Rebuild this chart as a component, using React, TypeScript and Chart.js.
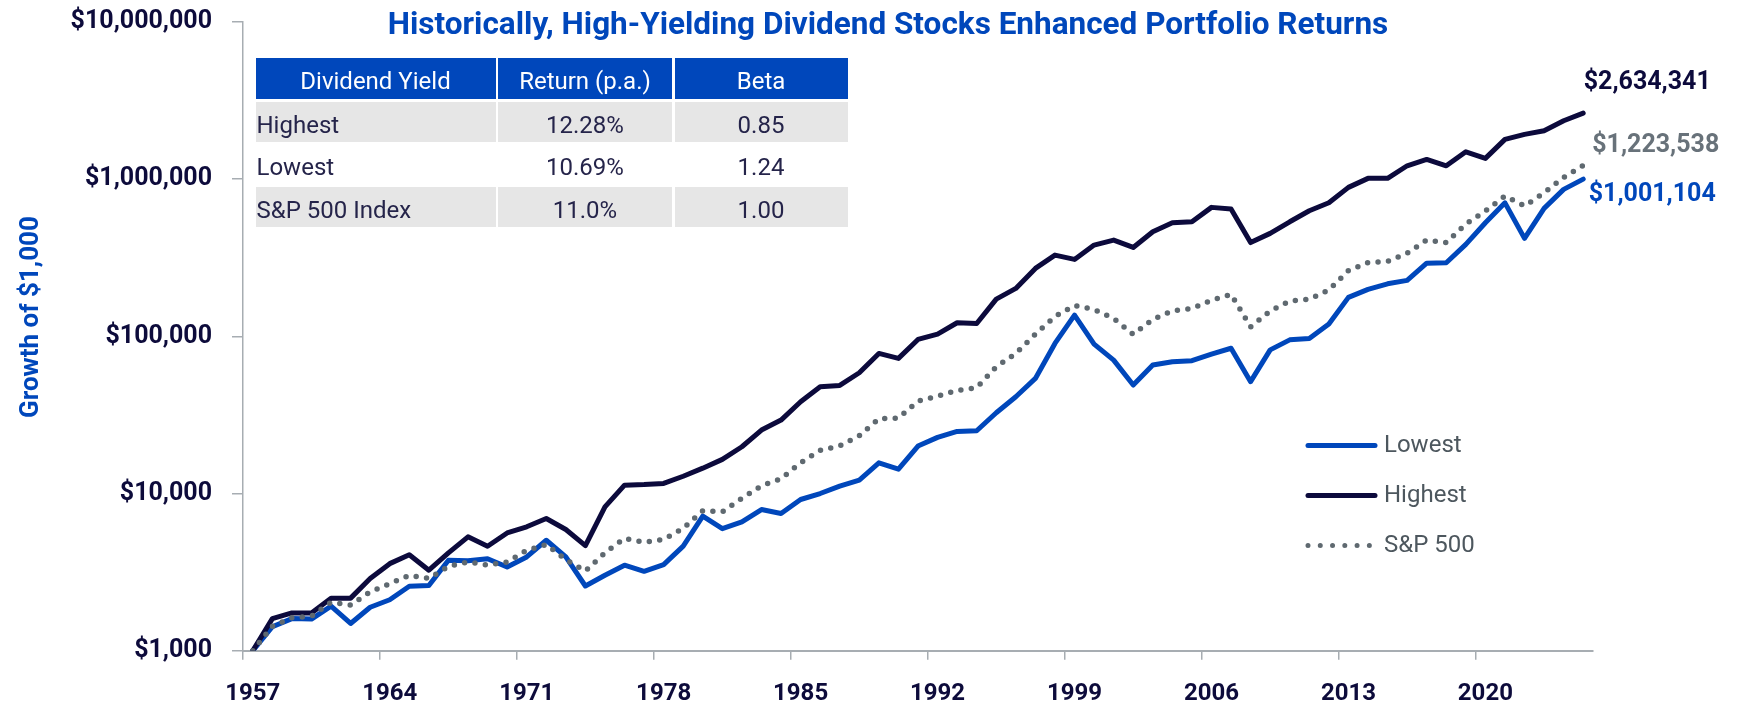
import React, { useEffect, useRef } from 'react';
import { Chart, registerables } from 'chart.js';

Chart.register(...registerables);

// ---------- data ----------
const YEARS = [
  '1957', '1958', '1959', '1960', '1961', '1962', '1963', '1964', '1965', '1966',
  '1967', '1968', '1969', '1970', '1971', '1972', '1973', '1974', '1975', '1976',
  '1977', '1978', '1979', '1980', '1981', '1982', '1983', '1984', '1985', '1986',
  '1987', '1988', '1989', '1990', '1991', '1992', '1993', '1994', '1995', '1996',
  '1997', '1998', '1999', '2000', '2001', '2002', '2003', '2004', '2005', '2006',
  '2007', '2008', '2009', '2010', '2011', '2012', '2013', '2014', '2015', '2016',
  '2017', '2018', '2019', '2020', '2021', '2022', '2023', '2024', '2025',
];

const HIGHEST = [
  1000, 1600, 1740, 1740, 2160, 2160, 2880, 3580, 4080, 3250,
  4190, 5300, 4620, 5610, 6140, 6940, 5900, 4660, 8220, 11300,
  11400, 11590, 12880, 14500, 16490, 19850, 25330, 29340, 38370, 47790,
  48750, 58650, 77860, 72400, 95600, 103400, 122050, 120800, 172600, 201800,
  270500, 328800, 308600, 380700, 409600, 367900, 462700, 528000, 535700, 661600,
  645600, 395000, 452000, 535700, 629500, 707500, 887000, 1012000, 1012000, 1217000,
  1336000, 1217000, 1494000, 1356000, 1791000, 1928000, 2033000, 2353000, 2634341,
];

const LOWEST = [
  1000, 1420, 1600, 1590, 1920, 1490, 1890, 2110, 2570, 2600,
  3760, 3730, 3850, 3410, 3950, 5045, 3950, 2580, 3020, 3500,
  3200, 3530, 4625, 7180, 5980, 6600, 7910, 7460, 9160, 10000,
  11140, 12170, 15680, 14300, 20040, 22760, 24850, 25080, 32660, 41290,
  53980, 90160, 136500, 89320, 70600, 48980, 65660, 68920, 70000, 77000,
  84000, 51500, 82000, 95000, 97000, 120000, 177000, 199000, 216000, 227000,
  292000, 294000, 385000, 528000, 707000, 420000, 652000, 861000, 1001104,
];

const SP500 = [
  1000, 1430, 1620, 1660, 2030, 1950, 2365, 2670, 3020, 2880,
  3440, 3670, 3500, 3670, 4355, 4730, 3800, 3210, 4200, 5190,
  4890, 5100, 6000, 7780, 7660, 9320, 11200, 12400, 15700, 18800,
  20140, 23320, 29900, 30200, 38740, 41690, 45290, 47120, 64070, 77880,
  103300, 133900, 157300, 148300, 130000, 102900, 128200, 145500, 150000, 170000,
  185000, 115000, 145000, 168000, 172000, 197000, 262000, 295000, 300000, 338000,
  410000, 395000, 517700, 627000, 781000, 674800, 819000, 1026000, 1223538,
];

const Y_TICK_VALUES = [1000, 10000, 100000, 1000000, 10000000];
const Y_TICK_LABELS = ['$1,000', '$10,000', '$100,000', '$1,000,000', '$10,000,000'];
const X_TICK_LABELS = ['1957', '1964', '1971', '1978', '1985', '1992', '1999', '2006', '2013', '2020'];

const SERIES_NAMES = ['S&P 500', 'Highest', 'Lowest'];
const END_LABELS = ['$1,223,538', '$2,634,341', '$1,001,104'];
const LEGEND_ORDER = ['Lowest', 'Highest', 'S&P 500'];

const TITLE = 'Historically, High-Yielding Dividend Stocks Enhanced Portfolio Returns';
const Y_TITLE = 'Growth of $1,000';

const TABLE_HEAD = ['Dividend Yield', 'Return (p.a.)', 'Beta'];
const TABLE_ROWS = [
  ['Highest', '12.28%', '0.85'],
  ['Lowest', '10.69%', '1.24'],
  ['S&P 500 Index', '11.0%', '1.00'],
];

// ---------- styles ----------
const FONT = "Roboto, 'DejaVu Sans', sans-serif";
const NAVY = '#0c0a3c';
const BLUE = '#0047bb';
const GRAY = '#5f6970';
const GRAY_LABEL = '#68727a';
const AXIS = '#a7adb2';
const TICK = '#0d0b3b';
const LEGEND_TEXT = '#4d575e';
const TABLE_TEXT = '#25244a';
const ROW_GRAY = '#e6e6e6';

const SERIES_STYLE: Record<string, any> = {
  'S&P 500': { color: GRAY, labelColor: GRAY_LABEL, width: 5.5, dash: [0, 10.5], dx: 9, dy: -13.6 },
  Highest: { color: NAVY, labelColor: NAVY, width: 5, dash: [], dx: 0.5, dy: -23.7 },
  Lowest: { color: BLUE, labelColor: BLUE, width: 5, dash: [], dx: 5.5, dy: 21.7 },
};
const SERIES_DATA: Record<string, number[]> = { 'S&P 500': SP500, Highest: HIGHEST, Lowest: LOWEST };

const decorPlugin = {
  id: 'decor',
  afterDatasetsDraw(chart: any) {
    const ctx = chart.ctx as CanvasRenderingContext2D;
    const area = chart.chartArea;
    ctx.save();

    // title
    ctx.fillStyle = BLUE;
    ctx.font = `bold 31.5px ${FONT}`;
    ctx.textAlign = 'center';
    ctx.textBaseline = 'alphabetic';
    ctx.fillText(TITLE, 888, 34.3);

    // y axis title
    ctx.save();
    ctx.translate(38, 317);
    ctx.rotate(-Math.PI / 2);
    ctx.font = `bold 26px ${FONT}`;
    ctx.fillStyle = BLUE;
    ctx.textAlign = 'center';
    ctx.textBaseline = 'alphabetic';
    ctx.fillText(Y_TITLE, 0, 0);
    ctx.restore();

    // end labels
    chart.data.datasets.forEach((ds: any, i: number) => {
      const meta = chart.getDatasetMeta(i);
      const pt = meta.data[meta.data.length - 1];
      const st = SERIES_STYLE[ds.label];
      ctx.font = `bold 25px ${FONT}`;
      ctx.fillStyle = st.labelColor;
      ctx.textAlign = 'left';
      ctx.textBaseline = 'alphabetic';
      ctx.fillText(END_LABELS[i], pt.x + st.dx, pt.y + st.dy);
    });

    // legend
    const lx0 = area.right - 285;
    const lx1 = area.right - 218;
    const tx = area.right - 209;
    LEGEND_ORDER.forEach((name, i) => {
      const st = SERIES_STYLE[name];
      const y = area.top + 423.5 + i * 50;
      ctx.save();
      ctx.strokeStyle = st.color;
      ctx.lineWidth = 5;
      ctx.lineCap = 'round';
      if (st.dash.length) {
        ctx.setLineDash([0, 12.27]);
        ctx.beginPath();
        ctx.moveTo(lx0, y);
        ctx.lineTo(lx0 + 12.27 * 5 + 0.5, y);
        ctx.stroke();
      } else {
        ctx.beginPath();
        ctx.moveTo(lx0, y);
        ctx.lineTo(lx1, y);
        ctx.stroke();
      }
      ctx.restore();
      ctx.font = `24px ${FONT}`;
      ctx.fillStyle = LEGEND_TEXT;
      ctx.textAlign = 'left';
      ctx.textBaseline = 'alphabetic';
      ctx.fillText(name, tx, y + 6);
    });

    ctx.restore();
  },
};

function Table() {
  const cols = [240, 174, 173];
  const gap = 2.5;
  const rowH = [41, 40, 45, 40];
  const rowGap = [0, 3, 0, 0];
  const rows = [TABLE_HEAD, ...TABLE_ROWS];
  return (
    <div
      style={{
        position: 'absolute',
        left: 255.5,
        top: 58.3,
        fontFamily: FONT,
        fontSize: 24,
      }}
    >
      {rows.map((row, r) => {
        const isHead = r === 0;
        const bg = isHead ? BLUE : r === 2 ? '#ffffff' : ROW_GRAY;
        return (
          <div key={r} style={{ display: 'flex', marginTop: rowGap[r], gap }}>
            {row.map((cell, c) => (
              <div
                key={c}
                style={{
                  width: cols[c],
                  height: rowH[r],
                  lineHeight: `${rowH[r]}px`,
                  background: bg,
                  paddingLeft: !isHead && c === 0 ? 1 : 0,
                  paddingTop: 2.5,
                  boxSizing: 'border-box',
                  whiteSpace: 'nowrap',
                  textAlign: isHead || c > 0 ? 'center' : 'left',
                  color: isHead ? '#ffffff' : TABLE_TEXT,
                }}
              >
                {cell}
              </div>
            ))}
          </div>
        );
      })}
    </div>
  );
}

export default function App() {
  const ref = useRef<HTMLCanvasElement | null>(null);

  useEffect(() => {
    if (!ref.current) return;
    const datasets = SERIES_NAMES.map((name) => {
      const st = SERIES_STYLE[name];
      return {
        label: name,
        data: SERIES_DATA[name],
        borderColor: st.color,
        backgroundColor: st.color,
        borderWidth: st.width,
        borderDash: st.dash,
        borderCapStyle: 'round',
        borderJoinStyle: 'round',
        pointRadius: 0,
        pointHoverRadius: 0,
        tension: 0,
        fill: false,
      };
    });

    const chart = new Chart(ref.current, {
      type: 'line',
      data: { labels: YEARS, datasets: datasets as any },
      options: {
        responsive: false,
        animation: false,
        events: [],
        layout: { padding: { top: 22, right: 151, bottom: 0, left: 0 } },
        plugins: {
          legend: { display: false },
          tooltip: { enabled: false },
          title: { display: false },
        },
        scales: {
          x: {
            type: 'category',
            offset: true,
            grid: {
              offset: true,
              drawOnChartArea: false,
              drawTicks: true,
              tickLength: 9,
              lineWidth: 1.5,
              color: (c: any) => (c.index % 7 === 0 ? AXIS : 'rgba(0,0,0,0)'),
            },
            border: { display: true, color: AXIS, width: 2 },
            ticks: {
              autoSkip: false,
              maxRotation: 0,
              minRotation: 0,
              padding: 20,
              color: TICK,
              font: { family: FONT, size: 24, weight: 'bold' },
              callback: (_v: any, i: number) => (X_TICK_LABELS.includes(YEARS[i]) ? YEARS[i] : ''),
            },
            afterFit: (s: any) => {
              s.height = 50.3;
              s.paddingLeft = 0;
              s.paddingRight = 0;
            },
          },
          y: {
            type: 'logarithmic',
            min: 1000,
            max: 10000000,
            afterBuildTicks: (s: any) => {
              s.ticks = Y_TICK_VALUES.map((v) => ({ value: v }));
            },
            grid: {
              drawOnChartArea: false,
              drawTicks: true,
              tickLength: 11,
              lineWidth: 1.5,
              color: AXIS,
            },
            border: { display: true, color: AXIS, width: 1.5 },
            ticks: {
              padding: 20,
              color: TICK,
              font: { family: FONT, size: 25, weight: 'bold' },
              callback: (v: any) => {
                const i = Y_TICK_VALUES.indexOf(Number(v));
                return i >= 0 ? Y_TICK_LABELS[i] : '';
              },
            },
            afterFit: (s: any) => {
              s.width = 243;
              s.paddingTop = 0;
              s.paddingBottom = 0;
            },
          },
        },
      } as any,
      plugins: [decorPlugin],
    });
    return () => chart.destroy();
  }, []);

  return (
    <div style={{ position: 'absolute', left: 0, top: 0, width: 1744, height: 701, background: '#ffffff' }}>
      <canvas ref={ref} width={1744} height={701} style={{ display: 'block', width: 1744, height: 701 }} />
      <Table />
    </div>
  );
}
